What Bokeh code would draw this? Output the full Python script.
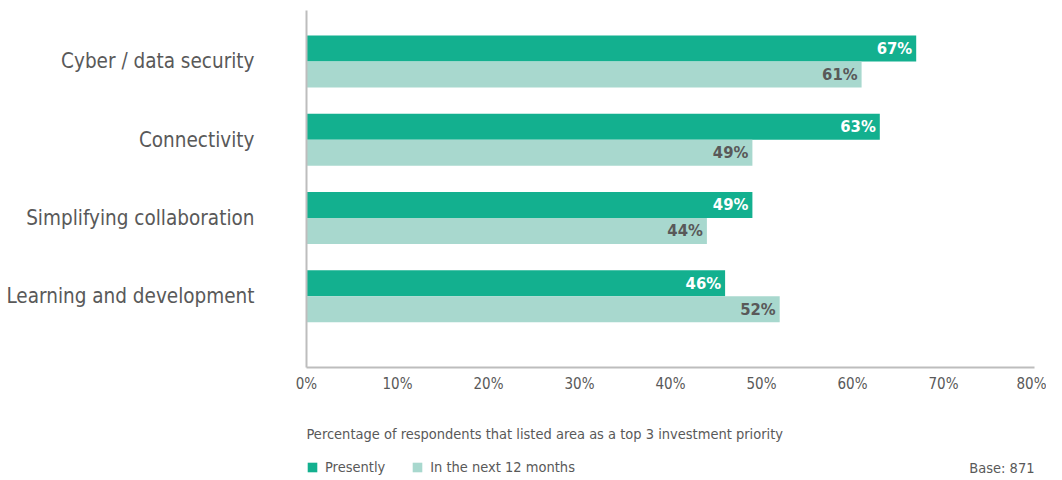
from bokeh.plotting import figure
from bokeh.layouts import column
from bokeh.models import (ColumnDataSource, Range1d, FixedTicker, PrintfTickFormatter,
                          Legend, LegendItem)
from bokeh.core.properties import value
from bokeh.embed import file_html
from bokeh.resources import INLINE

categories = ["Cyber / data security", "Connectivity", "Simplifying collaboration", "Learning and development"]
presently = [67, 63, 49, 46]
next_12_months = [61, 49, 44, 52]
x_ticks = [0, 10, 20, 30, 40, 50, 60, 70, 80]
series_names = ["Presently", "In the next 12 months"]
x_title = "Percentage of respondents that listed area as a top 3 investment priority"
base_note = "Base: 871"

DARK = "#13B08F"
LIGHT = "#A8D8CE"
GREY = "#595959"
AXIS = "#BDBDBD"
FONT = "DejaVu Sans Condensed"

W = 1046
LEFT = 306
RIGHT = 12

BAR_H = 0.332
idx = list(range(len(categories)))
src_a = ColumnDataSource(dict(y=[i - BAR_H / 2 for i in idx], v=presently,
                              t=[f"{v}%" for v in presently]))
src_b = ColumnDataSource(dict(y=[i + BAR_H / 2 for i in idx], v=next_12_months,
                              t=[f"{v}%" for v in next_12_months]))

p = figure(width=W, height=400, output_backend="svg", toolbar_location=None,
           x_range=Range1d(0, 80), y_range=Range1d(3.91, -0.65),
           min_border_left=LEFT, min_border_right=RIGHT, min_border_top=10, min_border_bottom=33)
p.outline_line_color = None
p.xgrid.grid_line_color = None
p.ygrid.grid_line_color = None

p.hbar(y="y", right="v", left=0, height=BAR_H, source=src_a, color=DARK, line_color=None)
p.hbar(y="y", right="v", left=0, height=BAR_H, source=src_b, color=LIGHT, line_color=None)

p.text(x="v", y="y", text="t", source=src_a, x_offset=-4, text_align="right", text_baseline="middle",
       text_color="white", text_font=value(FONT), text_font_style="bold", text_font_size="16.5px")
p.text(x="v", y="y", text="t", source=src_b, x_offset=-4, text_align="right", text_baseline="middle",
       text_color=GREY, text_font=value(FONT), text_font_style="bold", text_font_size="16.5px")

xa = p.xaxis[0]
xa.ticker = FixedTicker(ticks=x_ticks)
xa.formatter = PrintfTickFormatter(format="%d%%")
xa.major_tick_line_color = None
xa.minor_tick_line_color = None
xa.axis_line_color = AXIS
xa.axis_line_width = 2
xa.major_label_standoff = 1
xa.major_label_text_font = FONT
xa.major_label_text_font_size = "15px"
xa.major_label_text_color = GREY

ya = p.yaxis[0]
ya.ticker = FixedTicker(ticks=idx)
ya.major_label_overrides = {i: c for i, c in zip(idx, categories)}
ya.major_tick_line_color = None
ya.minor_tick_line_color = None
ya.axis_line_color = AXIS
ya.axis_line_width = 2
ya.major_label_standoff = 46
ya.major_label_text_font = FONT
ya.major_label_text_font_size = "20.5px"
ya.major_label_text_color = GREY

# footer: axis title, legend, base note
q = figure(width=W, height=76, output_backend="svg", toolbar_location=None,
           x_range=Range1d(0, 80), y_range=Range1d(76, 0),
           min_border_left=LEFT, min_border_right=RIGHT, min_border_top=0, min_border_bottom=0)
q.axis.visible = False
q.grid.visible = False
q.outline_line_color = None

foot = ColumnDataSource(dict(x=[0, 80], y=[33, 67], t=[x_title, base_note], a=["left", "right"]))
q.text(x="x", y="y", text="t", text_align="a", source=foot, text_baseline="middle",
       text_font=value(FONT), text_font_size="14.5px", text_color=GREY)

# legend proxies: zero-width bars, only their legend swatches show
proxy = dict(y=[38], right=[0])
ra = q.hbar(y="y", right="right", left=0, height=1, source=ColumnDataSource(proxy), color=DARK, line_color=None)
rb = q.hbar(y="y", right="right", left=0, height=1, source=ColumnDataSource(proxy), color=LIGHT, line_color=None)
legend = Legend(items=[LegendItem(label=series_names[0], renderers=[ra]),
                       LegendItem(label=series_names[1], renderers=[rb])],
                orientation="horizontal", location=(0, 0),
                glyph_width=12, glyph_height=12, label_standoff=7, spacing=26, label_height=18,
                padding=0, margin=0, border_line_color=None, background_fill_alpha=0,
                label_text_font=FONT, label_text_font_size="14.5px", label_text_color=GREY)
q.add_layout(legend, "center")

open("out.html", "w").write(file_html(column(p, q, spacing=0), INLINE))
